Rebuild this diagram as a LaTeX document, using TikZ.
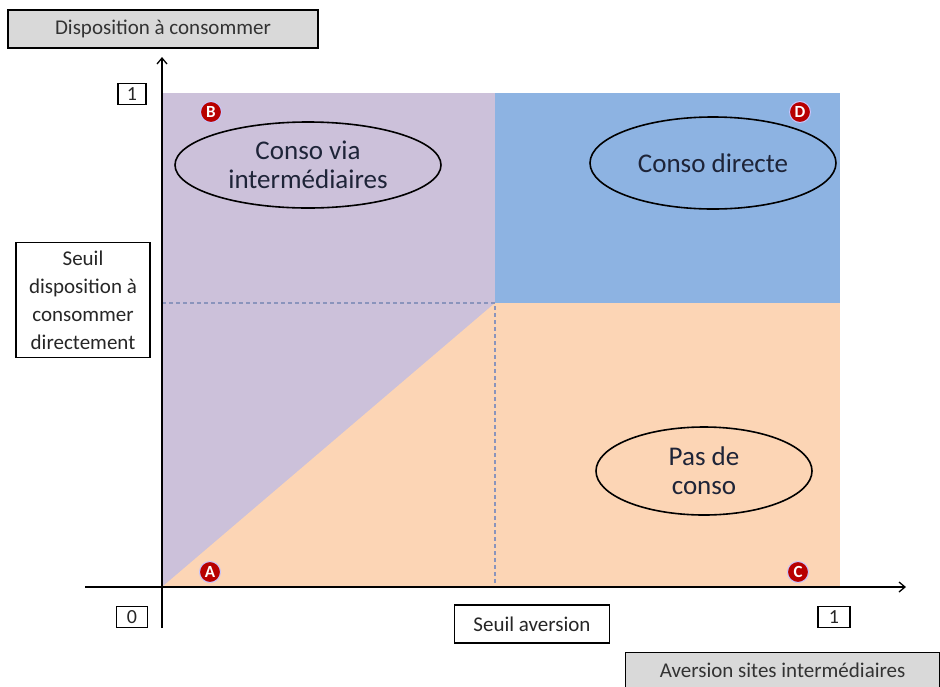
\documentclass[tikz,border=0pt]{standalone}
\usepackage{fontspec}
\setmainfont{Carlito}
\usetikzlibrary{arrows.meta,shapes.geometric}
\begin{document}
\begin{tikzpicture}[x=1pt,y=-1pt,
  lbl/.style={draw=black,line width=1.2pt,inner sep=0pt,font=\fontsize{21}{25}\selectfont,text=black!85},
  graybox/.style={lbl,fill=gray!30,text=black!80},
  numbox/.style={draw=black,line width=1.2pt,inner sep=0pt,minimum width=28pt,minimum height=21pt,font=\fontsize{20}{22}\selectfont,text=black!85},
  oval/.style={draw=black,line width=1.6pt,ellipse,inner sep=0pt,font=\fontsize{27}{29}\selectfont,align=center,text=ovaltext},
  badge/.style={circle,fill=red!72!black,draw=blue!22,line width=1pt,inner sep=0pt,minimum size=21pt,text=white,font=\fontsize{17}{17}\selectfont\bfseries},
  dashline/.style={draw=dashcol,dash pattern=on 4pt off 3pt,line width=1.4pt}]
\useasboundingbox (0,0) rectangle (940,686);
\definecolor{cpurple}{HTML}{CCC1DA}
\definecolor{cblue}{HTML}{8DB3E2}
\definecolor{corange}{HTML}{FCD5B5}
\definecolor{dashcol}{HTML}{8A94BC}
\definecolor{ovaltext}{HTML}{1E2438}
% regions
\fill[cpurple] (162,93) rectangle (495,587);
\fill[corange] (162,587) -- (495,303) -- (495,587) -- cycle;
\fill[cblue] (495,93) rectangle (840,303);
\fill[corange] (495,303) rectangle (840,587);
\coordinate (ym) at (162,303);
\coordinate (mid) at (495,303);
\coordinate (xm) at (495,587);
\draw[dashline] (ym) -- (mid) -- (xm);
% axes
\coordinate (xs) at (85,587);
\coordinate (xe) at (906,587);
\coordinate (ys) at (162,628);
\coordinate (ye) at (162,57);
\draw[line width=1.3pt,-{Straight Barb[length=6pt,width=10pt]}] (xs) -- (xe);
\draw[line width=1.3pt,-{Straight Barb[length=6pt,width=10pt]}] (ys) -- (ye);
% labels
\node[graybox,minimum width=310pt,minimum height=38pt] (yl) at (163,29) {Disposition à consommer};
\node[graybox,minimum width=314pt,minimum height=36pt,anchor=north west] (xl) at (625,652) {Aversion sites intermédiaires};
\node[numbox] (one1) at (132,94) {1};
\node[numbox,minimum width=31pt] (zero) at (132,617) {0};
\node[numbox,minimum width=32pt] (one2) at (834,617) {1};
\node[lbl,minimum width=155pt,minimum height=38pt] (sa) at (532,624) {Seuil aversion};
\node[lbl,minimum width=134pt,minimum height=115pt,align=center,font=\fontsize{21}{28}\selectfont] (sd) at (83,300) {Seuil\\disposition à\\consommer\\directement};
% ovals
\node[oval,minimum width=266pt,minimum height=86pt] (e1) at (308,165) {Conso via\\intermédiaires};
\node[oval,minimum width=246pt,minimum height=92pt] (e2) at (713,163) {Conso directe};
\node[oval,minimum width=216pt,minimum height=88pt] (e3) at (704,471) {Pas de\\conso};
% badges
\node[badge] (B) at (211,112) {B};
\node[badge] (D) at (800,112) {D};
\node[badge] (A) at (210,572) {A};
\node[badge] (C) at (798,572) {C};
\end{tikzpicture}
\end{document}
